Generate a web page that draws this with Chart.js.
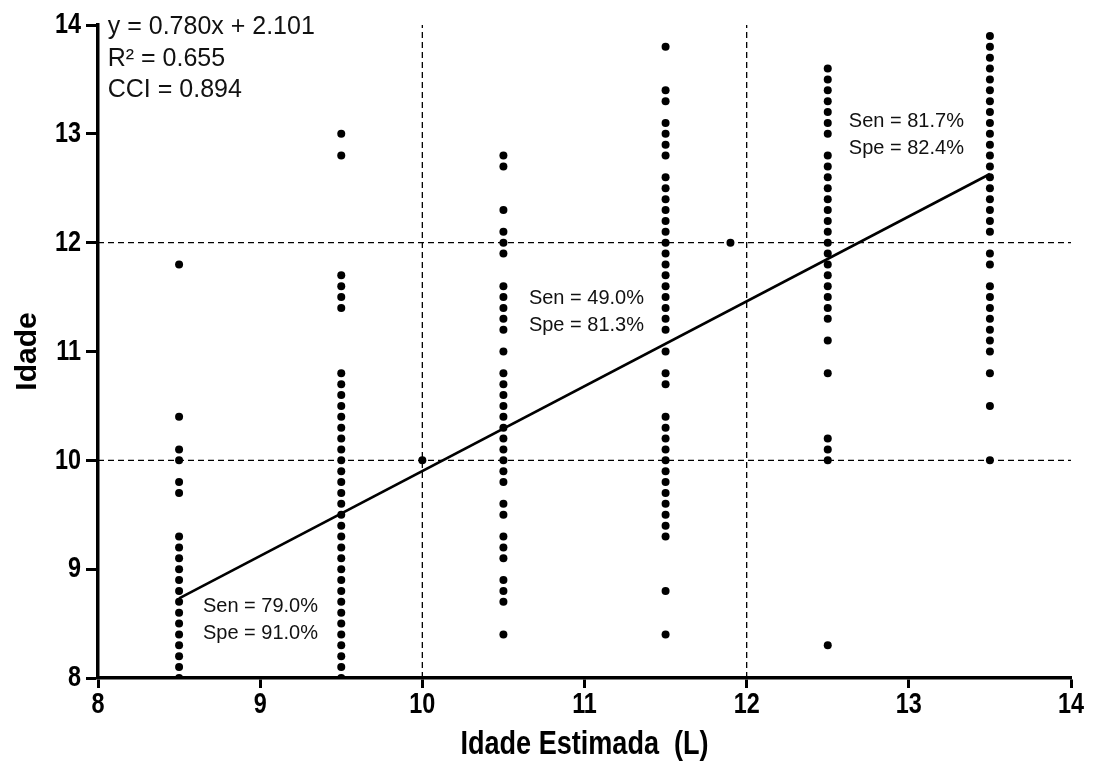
<!DOCTYPE html>
<html lang="pt">

<head>
  <meta charset="UTF-8">
  <title>Idade x Idade Estimada</title>
  <style>
    body {
      margin: 0;
      background: #fff;
    }

    #chart-box {
      width: 1093px;
      height: 767px;
    }
  </style>
</head>

<body>
  <div id="chart-box">
    <canvas id="idadeChart" width="1093" height="767"></canvas>
  </div>

  <script src="https://cdn.jsdelivr.net/npm/chart.js@4.4.1/dist/chart.umd.min.js"></script>
  <script>
    // observed ages (Idade) for each estimated-age column
    const col85 = [11.8, 10.4, 10.1, 10.0, 9.8, 9.7, 9.3, 9.2, 9.1, 9.0, 8.9, 8.8, 8.7, 8.6, 8.5, 8.4, 8.3, 8.2, 8.1, 8.0];
    const col95 = [13.0, 12.8, 11.7, 11.6, 11.5, 11.4, 10.8, 10.7, 10.6, 10.5, 10.4, 10.3, 10.2, 10.1, 10.0, 9.9, 9.8, 9.7, 9.6, 9.5, 9.4, 9.3, 9.2, 9.1, 9.0, 8.9, 8.8, 8.7, 8.6, 8.5, 8.4, 8.3, 8.2, 8.1, 8.0];
    const col100 = [10.0];
    const col105 = [12.8, 12.7, 12.3, 12.1, 12.0, 11.9, 11.6, 11.5, 11.4, 11.3, 11.2, 11.0, 10.8, 10.7, 10.6, 10.5, 10.4, 10.3, 10.2, 10.1, 10.0, 9.9, 9.8, 9.6, 9.5, 9.3, 9.2, 9.1, 8.9, 8.8, 8.7, 8.4];
    const col115 = [13.8, 13.4, 13.3, 13.1, 13.0, 12.9, 12.8, 12.6, 12.5, 12.4, 12.3, 12.2, 12.1, 12.0, 11.9, 11.8, 11.7, 11.6, 11.5, 11.4, 11.3, 11.2, 11.0, 10.8, 10.7, 10.4, 10.3, 10.2, 10.1, 10.0, 9.9, 9.8, 9.7, 9.6, 9.5, 9.4, 9.3, 8.8, 8.4];
    const col119 = [12.0];
    const col125 = [13.6, 13.5, 13.4, 13.3, 13.2, 13.1, 13.0, 12.8, 12.7, 12.6, 12.5, 12.4, 12.3, 12.2, 12.1, 12.0, 11.9, 11.8, 11.7, 11.6, 11.5, 11.4, 11.3, 11.1, 10.8, 10.2, 10.1, 10.0, 8.3];
    const col135 = [13.9, 13.8, 13.7, 13.6, 13.5, 13.4, 13.3, 13.2, 13.1, 13.0, 12.9, 12.8, 12.7, 12.6, 12.5, 12.4, 12.3, 12.2, 12.1, 11.9, 11.8, 11.6, 11.5, 11.4, 11.3, 11.2, 11.1, 11.0, 10.8, 10.5, 10.0];

    const estimated = [8.5, 9.5, 10.0, 10.5, 11.5, 11.9, 12.5, 13.5];
    const columns = [col85, col95, col100, col105, col115, col119, col125, col135];

    // regression y = 0.780x + 2.101, drawn over the fitted range
    const slope = 0.780;
    const intercept = 2.101;
    const fitRange = [8.5, 13.5];

    // cut-off lines (10 and 12 years)
    const cutX = [10, 12];
    const cutY = [10, 12];

    const axisTicks = [8, 9, 10, 11, 12, 13, 14];
    const xTitle = 'Idade Estimada  (L)';

    const statsText = ['y = 0.780x + 2.101', 'R² = 0.655', 'CCI = 0.894'];
    const quadrantText = [
      { lines: ['Sen = 79.0%', 'Spe = 91.0%'], x: 8.647, y: [8.609, 8.358] },
      { lines: ['Sen = 49.0%', 'Spe = 81.3%'], x: 10.657, y: [11.437, 11.189] },
      { lines: ['Sen = 81.7%', 'Spe = 82.4%'], x: 12.630, y: [13.067, 12.816] }
    ];

    const points = [];
    estimated.forEach((x, i) => {
      columns[i].forEach(y => points.push({ x: x, y: y }));
    });

    const fitLine = fitRange.map(x => ({ x: x, y: slope * x + intercept }));

    const dashed = { borderColor: '#000', borderWidth: 1.3, borderDash: [6, 4], pointRadius: 0, fill: false, showLine: true, order: 3 };
    const cutSets = [];
    cutX.forEach(v => cutSets.push(Object.assign({ type: 'line', data: [{ x: v, y: axisTicks[0] }, { x: v, y: axisTicks[axisTicks.length - 1] }] }, dashed)));
    cutY.forEach(v => cutSets.push(Object.assign({ type: 'line', data: [{ x: axisTicks[0], y: v }, { x: axisTicks[axisTicks.length - 1], y: v }] }, dashed)));

    const plain = "'Liberation Sans', Arial, sans-serif";

    // bold labels squeezed horizontally, like the narrow font of the original
    function narrowText(ctx, text, x, y, align, size, squeeze) {
      ctx.save();
      ctx.translate(x, y);
      ctx.scale(squeeze, 1);
      ctx.font = 'bold ' + size + 'px ' + plain;
      ctx.textAlign = align;
      ctx.textBaseline = 'middle';
      ctx.fillStyle = '#000';
      ctx.fillText(text, 0, 0);
      ctx.restore();
    }

    const textPlugin = {
      id: 'textPlugin',
      afterDraw(chart) {
        const { ctx, scales: { x, y }, chartArea } = chart;

        x.ticks.forEach(t => narrowText(ctx, String(t.value), x.getPixelForValue(t.value), 705, 'center', 30, 0.78));
        y.ticks.forEach(t => narrowText(ctx, String(t.value), chartArea.left - 17, y.getPixelForValue(t.value), 'right', 30, 0.78));
        narrowText(ctx, xTitle, (chartArea.left + chartArea.right) / 2, 745, 'center', 33, 0.82);

        ctx.save();
        ctx.fillStyle = '#111';
        ctx.textAlign = 'left';
        ctx.textBaseline = 'alphabetic';

        ctx.font = '25px ' + plain;
        const statsY = [13.917, 13.623, 13.338];
        statsText.forEach((t, i) => {
          ctx.fillText(t, x.getPixelForValue(8.06), y.getPixelForValue(statsY[i]));
        });

        ctx.font = '20px ' + plain;
        quadrantText.forEach(q => {
          q.lines.forEach((t, i) => {
            ctx.fillText(t, x.getPixelForValue(q.x), y.getPixelForValue(q.y[i]));
          });
        });
        ctx.restore();
      }
    };

    const ctx = document.getElementById('idadeChart').getContext('2d');
    new Chart(ctx, {
      type: 'scatter',
      data: {
        datasets: [
          {
            label: 'Idade',
            data: points,
            backgroundColor: '#000',
            borderWidth: 0,
            pointRadius: 4,
            pointHoverRadius: 4,
            order: 1
          },
          {
            type: 'line',
            label: 'Regressão',
            data: fitLine,
            borderColor: '#000',
            borderWidth: 2.6,
            pointRadius: 0,
            fill: false,
            order: 2
          },
          ...cutSets
        ]
      },
      options: {
        responsive: false,
        animation: false,
        layout: {
          padding: { left: 0, right: 22, top: 25, bottom: 0 }
        },
        plugins: {
          legend: { display: false },
          tooltip: { enabled: false }
        },
        scales: {
          x: {
            type: 'linear',
            min: 8,
            max: 14,
            afterBuildTicks: s => { s.ticks = axisTicks.map(v => ({ value: v })); },
            afterFit: s => { s.height = 89; },
            border: { color: '#000', width: 3.5 },
            grid: { drawOnChartArea: false, color: '#000', tickLength: 10, tickWidth: 3, tickColor: '#000' },
            ticks: { display: false },
            title: { display: false }
          },
          y: {
            type: 'linear',
            min: 8,
            max: 14,
            afterBuildTicks: s => { s.ticks = axisTicks.map(v => ({ value: v })); },
            afterFit: s => { s.width = 98; },
            border: { color: '#000', width: 3.5 },
            grid: { drawOnChartArea: false, color: '#000', tickLength: 12, tickWidth: 3, tickColor: '#000' },
            ticks: { display: false },
            title: {
              display: true,
              text: 'Idade',
              color: '#000',
              padding: { top: 10, bottom: 0 },
              font: { family: plain, size: 30, weight: 'bold', lineHeight: 1.2 }
            }
          }
        }
      },
      plugins: [textPlugin]
    });
  </script>
</body>

</html>
